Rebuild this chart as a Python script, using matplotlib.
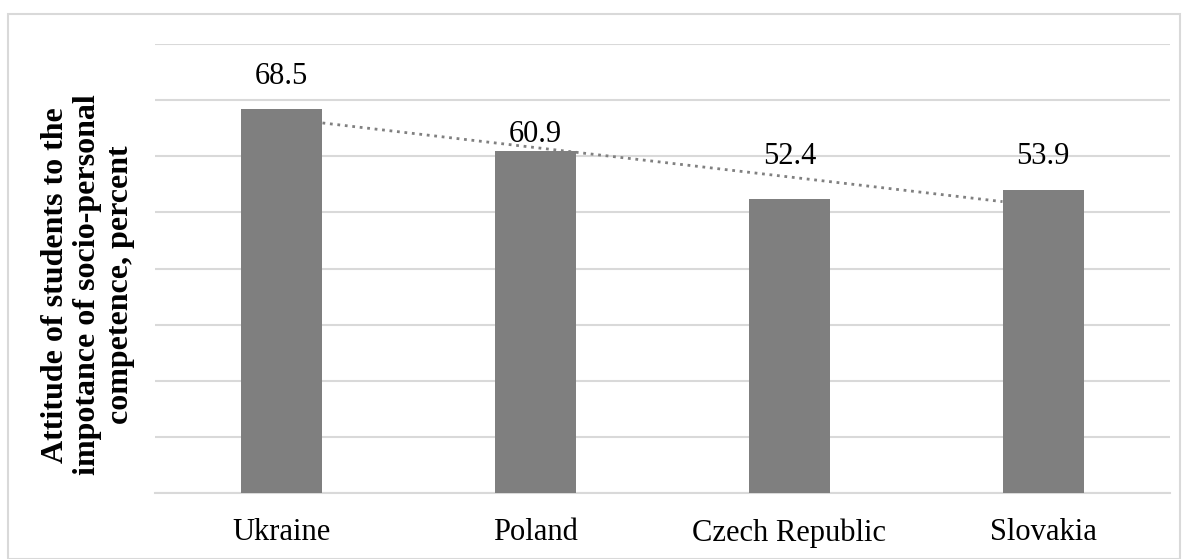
import numpy as np
import matplotlib
matplotlib.use('Agg')
from matplotlib import pyplot as plt
from matplotlib.patches import Rectangle

countries = ['Ukraine', 'Poland', 'Czech Republic', 'Slovakia']
values = [68.5, 60.9, 52.4, 53.9]
ylabel = 'Attitude of students to the\nimpotance of socio-personal\ncompetence, percent'

# label offsets above bar tops (pixels), as placed in the original
label_offsets = [32, 17, 42, 34]

plt.rcParams['font.family'] = ['Liberation Serif', 'DejaVu Serif']

fig = plt.figure(figsize=(11.87, 5.59), dpi=100)
fig.patch.set_facecolor('w')
# outer chart border
fig.patches.append(Rectangle((8 / 1187, 0), 1172 / 1187, 545 / 559,
                             transform=fig.transFigure, fill=False,
                             edgecolor='#d9d9d9', lw=1.5))

ax = fig.add_axes([155 / 1187, 66 / 559, 1015 / 1187, 449 / 559])
x = np.arange(len(countries))
bw = 0.32
ax.bar(x, values, width=bw, color='#7f7f7f', zorder=3)

# linear trendline, drawn between bar edges
k, b = np.polyfit(x, values, 1)
tx = np.array([x[0] + bw / 2, x[-1] - bw / 2])
ax.plot(tx, k * tx + b, ls=(0, (1, 1.7)), color='#808080', lw=2, zorder=4)

for xi, v, off in zip(x, values, label_offsets):
    ax.annotate('{:.1f}'.format(v), (xi, v), xytext=(0, off * 0.72),
                textcoords='offset points', ha='center', va='center',
                fontsize=22, color='#000000')

ax.set_xlim(-0.5, 3.5)
ax.set_ylim(0, 80)
ax.set_yticks(np.arange(0, 81, 10))
ax.set_yticklabels([])
ax.grid(axis='y', color='#d9d9d9', lw=1.5, zorder=0)
ax.tick_params(axis='both', length=0)
ax.tick_params(axis='x', pad=18, labelsize=22)
ax.set_xticks(x)
ax.set_xticklabels(countries)
for s in ['top', 'right', 'left']:
    ax.spines[s].set_visible(False)
ax.spines['bottom'].set_color('#d9d9d9')
ax.spines['bottom'].set_linewidth(1.5)

fig.text(88 / 1187, 1 - 285 / 559, ylabel, rotation=90, ha='center',
         va='center', multialignment='center', fontsize=23,
         fontweight='bold', linespacing=1.17)

plt.savefig('out.png', dpi=100)
